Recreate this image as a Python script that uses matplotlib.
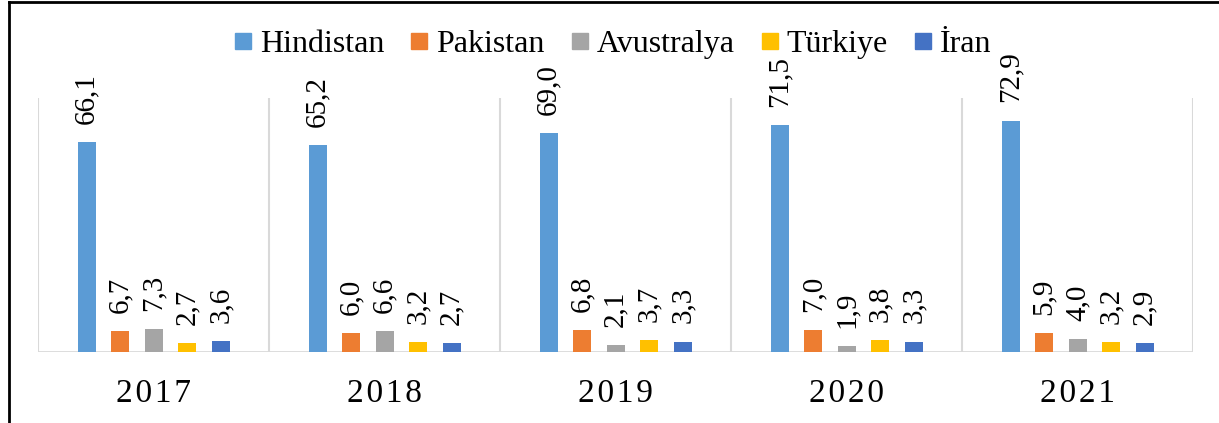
import numpy as np
import matplotlib.pyplot as plt
from matplotlib.lines import Line2D

plt.rcParams['font.family'] = ['Liberation Serif', 'DejaVu Serif']

years = ['2017', '2018', '2019', '2020', '2021']
countries = ['Hindistan', 'Pakistan', 'Avustralya', 'Türkiye', 'İran']
hindistan = [66.1, 65.2, 69.0, 71.5, 72.9]
pakistan = [6.7, 6.0, 6.8, 7.0, 5.9]
avustralya = [7.3, 6.6, 2.1, 1.9, 4.0]
turkiye = [2.7, 3.2, 3.7, 3.8, 3.2]
iran = [3.6, 2.7, 3.3, 3.3, 2.9]

series = [hindistan, pakistan, avustralya, turkiye, iran]
colors = ['#5B9BD5', '#ED7D31', '#A5A5A5', '#FFC000', '#4472C4']

fig = plt.figure(figsize=(12.19, 4.23), dpi=100)
ax = fig.add_axes([0.0312, 0.1678, 0.9475, 0.6005])

x = np.arange(len(years))
step = 0.145
width = 0.078
for i, (vals, c) in enumerate(zip(series, colors)):
    pos = x + (i - 2) * step
    bars = ax.bar(pos, vals, width, color=c, zorder=3)
    for b, v in zip(bars, vals):
        ax.annotate(f'{v:.1f}'.replace('.', ','),
                    (b.get_x() + b.get_width() / 2, v),
                    xytext=(0, 13), textcoords='offset points',
                    rotation=90, ha='center', va='bottom',
                    fontsize=21, annotation_clip=False)

ax.set_xlim(-0.5, len(years) - 0.5)
ax.set_ylim(0, 80)
ax.set_yticks([])
ax.set_xticks(x)
ax.set_xticklabels(['\u200a'.join(y) for y in years], fontsize=24)
ax.tick_params(axis='x', length=0, pad=19)
ax.set_xticks(np.arange(-0.5, len(years)), minor=True)
ax.tick_params(axis='x', which='minor', length=0)
ax.grid(axis='x', which='minor', color='#D9D9D9', linewidth=1.5, zorder=0)
for s in ax.spines.values():
    s.set_visible(False)
ax.axhline(0, color='#D9D9D9', linewidth=2, zorder=2, solid_capstyle='butt')

handles = [Line2D([], [], marker='s', linestyle='none', color=c, markersize=11.5)
           for c in colors]
fig.legend(handles, countries, loc='center', bbox_to_anchor=(0.503, 0.895),
           ncol=5, frameon=False, fontsize=23, handlelength=0.5,
           handletextpad=0.28, columnspacing=0.85)

# outer frame (top and left edges)
fig.add_artist(Line2D([0.0074, 1.0], [0.995, 0.995], color='black', linewidth=2,
                      transform=fig.transFigure))
fig.add_artist(Line2D([0.0074, 0.0074], [0.0, 0.995], color='black', linewidth=2,
                      transform=fig.transFigure))

fig.savefig('out.png', dpi=100)
